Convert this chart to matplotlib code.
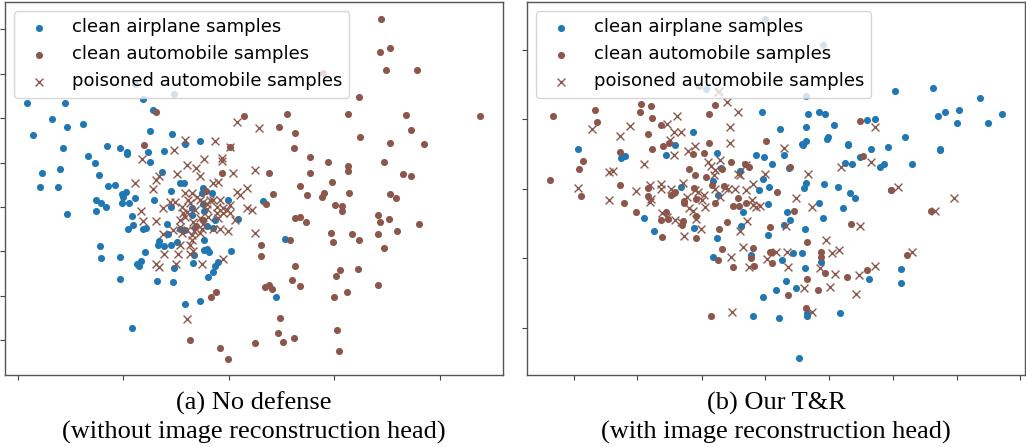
import matplotlib
matplotlib.use("Agg")
import matplotlib.pyplot as plt
import numpy as np

# ---------------- data (arbitrary embedding units) ----------------
# Panel (a): No defense
a_airplane = [(82,-309),(195,-307),(428,-296),(459,-328),(157,-357),(200,-381),(249,-371),(99,-404),
 (449,-392),(515,-402),(189,-443),(322,-437),(360,-443),(380,-455),(382,-461),(444,-455),(492,-452),
 (263,-466),(286,-489),(449,-486),(125,-517),(179,-505),(296,-523),(486,-515),(556,-430),(600,-422),
 (323,-557),(344,-553),(121,-560),(175,-560),(541,-549),(551,-549),(610,-562),(367,-582),(377,-575),
 (368,-590),(288,-599),(304,-608),(317,-620),(367,-610),(387,-608),(406,-595),(463,-599),(513,-572),
 (513,-622),(287,-632),(202,-642),(397,-649),(399,-674),(383,-688),(429,-686),(439,-685),(500,-672),
 (541,-688),(605,-580),(635,-580),(683,-600),(788,-602),(714,-658),(640,-684),(621,-678),(645,-660),
 (612,-720),(478,-724),(473,-735),(493,-738),(514,-735),(532,-726),(505,-702),(556,-690),(299,-739),
 (302,-774),(360,-770),(434,-756),(424,-784),(412,-792),(418,-799),(578,-790),(582,-764),(613,-750),
 (622,-746),(628,-756),(692,-754),(653,-786),(646,-799),(640,-816),(624,-831),(521,-803),(359,-836),
 (471,-844),(520,-846),(554,-912),(600,-902),(828,-891),(396,-984),(853,-718),(405,-252),(522,-282),
 (575,-645),(611,-632),(585,-682),(575,-623),(608,-612)]
a_auto = [(468,-336),(733,-348),(432,-433),(689,-440),(667,-518),(618,-572),(608,-660),(588,-678),
 (647,-875),(634,-890),(570,-1021),(660,-1044),(683,-1076),(764,-1028),
 (1142,-56),(1138,-155),(1169,-144),(1158,-209),(1251,-208),(967,-217),(1076,-289),(860,-342),
 (1043,-342),(1218,-344),(1440,-348),(835,-381),(885,-398),(1232,-390),(1078,-410),(1169,-427),
 (1271,-431),(880,-443),(928,-470),(983,-484),(1042,-498),(1042,-511),(1150,-484),(805,-518),
 (928,-517),(1209,-522),(1232,-526),(899,-558),(995,-546),
 (818,-581),(798,-612),(920,-585),(965,-590),(971,-578),(1047,-580),(1168,-583),(1187,-595),
 (1004,-616),(1026,-618),(1026,-632),(883,-653),(899,-652),(917,-665),(1132,-645),(1138,-665),
 (1166,-657),(1257,-671),(993,-700),(1056,-702),(1132,-702),(1191,-694),(870,-720),(999,-727),
 (1077,-719),(1150,-745),(782,-735),(782,-768),(885,-799),(1020,-809),(1074,-807),(1006,-829),
 (875,-840),(899,-858),(794,-862),(806,-856),(816,-866),(1134,-854),(1002,-891),(1041,-877),
 (840,-955),(834,-998),(847,-1025),(880,-1013),(1009,-990),(1016,-1054)]
a_poison = [(712,-366),(776,-383),(556,-420),(644,-421),(689,-440),(522,-449),(425,-476),(667,-473),
 (667,-483),(611,-477),(560,-495),(589,-503),(764,-508),(531,-520),(699,-517),(600,-528),(476,-527),
 (468,-538),(406,-549),(655,-546),(640,-548),(460,-566),(555,-580),(575,-580),(590,-590),(600,-600),
 (640,-600),(525,-605),(510,-605),(490,-625),(545,-620),(560,-635),(585,-630),(620,-628),(650,-620),
 (670,-625),(690,-615),(710,-577),(720,-585),(742,-563),(740,-625),(757,-630),(705,-660),(683,-693),
 (660,-688),(640,-688),(605,-688),(583,-693),(560,-690),(545,-700),(520,-690),(490,-703),(467,-662),
 (430,-663),(422,-632),(763,-700),(575,-720),(570,-735),(540,-735),(578,-752),(493,-762),(534,-762),
 (570,-763),(668,-778),(607,-791),(527,-792),(467,-793),(478,-800),(561,-956),(625,-650),(600,-655),
 (580,-665),(650,-640),(668,-640),(680,-630),(610,-605),(570,-610),(555,-650),(540,-660),(600,-700),
 (630,-600),(660,-600),(565,-600),(548,-640),(620,-612),(655,-655),(690,-640),(540,-680),(575,-705),
 (608,-672)]

# Panel (b): Our T&R
b_airplane = [(1147,-272),(1260,-264),(1401,-293),(746,-335),(886,-342),(917,-336),(937,-342),
 (1273,-346),(1296,-336),(1337,-330),(1467,-342),(1330,-369),(1424,-369),(800,-385),(880,-381),
 (962,-373),(1175,-410),(945,-410),(943,-416),(539,-394),(866,-430),(870,-433),(879,-423),(1004,-430),
 (1005,-433),(1279,-446),(1281,-448),(197,-447),(486,-433),(458,-464),(325,-472),(336,-468),(729,-464),
 (754,-470),(812,-464),(1062,-359),(1085,-356),(1074,-447),(1125,-441),(1040,-469),(995,-487),
 (1017,-491),(1101,-501),(1113,-492),(1195,-490),(778,-490),(828,-502),(682,-513),(611,-459),
 (623,-503),(600,-543),(615,-584),(750,-537),(739,-570),(767,-560),(873,-562),(880,-548),(934,-550),
 (974,-560),(1012,-579),(1027,-595),(1133,-569),(765,-612),(919,-608),(991,-623),(930,-655),(690,-637),
 (685,-677),(822,-636),(831,-659),(813,-674),(503,-560),(395,-653),(424,-692),(544,-683),(765,-706),
 (876,-686),(612,-715),(714,-765),(599,-771),(807,-781),(839,-760),(866,-760),(923,-786),(876,-803),
 (1163,-807),(1068,-836),(818,-844),(1163,-850),(789,-871),(848,-865),(751,-892),(721,-948),(797,-954),
 (881,-947),(883,-940),(980,-940),(857,-1075),(579,-266),(755,-56),(931,-134),(880,-286)]
b_auto = [(121,-346),(247,-328),(252,-365),(385,-311),(414,-318),(383,-336),(418,-354),(444,-373),
 (405,-400),(418,-445),(450,-438),(467,-428),(198,-505),(210,-482),(112,-538),(205,-589),(321,-454),
 (321,-553),(335,-610),(370,-636),(405,-563),(405,-589),(445,-660),(458,-636),(447,-710),(483,-580),
 (475,-585),(487,-575),(466,-656),(506,-675),(509,-664),(513,-610),(514,-602),(546,-523),(529,-507),
 (540,-461),(573,-458),(587,-428),(587,-341),(605,-315),(542,-562),(549,-597),(548,-648),(548,-715),
 (578,-530),(596,-553),(607,-609),(626,-506),(654,-484),(632,-558),(617,-686),(626,-747),(616,-779),
 (661,-800),(643,-667),(660,-619),(676,-595),(679,-619),(698,-609),(697,-490),(707,-500),(760,-422),
 (791,-577),(842,-633),(772,-680),(721,-743),(713,-775),(724,-797),(771,-757),(777,-757),(778,-790),
 (825,-886),(883,-725),(883,-836),(923,-757),(923,-771),(937,-818),(915,-871),(1003,-830),(1014,-671),
 (1051,-467),(1040,-362),(1133,-571),(1180,-766),(1254,-632),(1062,-809),(880,-925),(595,-948),
 (557,-258),(831,-499)]
b_poison = [(239,-385),(322,-408),(353,-378),(395,-490),(289,-514),(301,-513),(197,-564),(289,-600),
 (370,-572),(412,-553),(443,-552),(411,-607),(461,-370),(483,-394),(503,-396),(472,-420),(484,-463),
 (493,-348),(614,-275),(641,-305),(676,-336),(650,-381),(651,-428),(546,-437),(524,-452),(585,-485),
 (594,-497),(605,-510),(621,-480),(602,-525),(607,-568),(620,-592),(637,-563),(665,-566),(645,-566),
 (698,-570),(721,-550),(716,-600),(720,-614),(730,-620),(741,-618),(511,-547),(521,-590),(528,-625),
 (541,-632),(548,-658),(563,-688),(474,-565),(445,-565),(415,-598),(448,-640),(463,-650),(485,-660),
 (505,-665),(513,-707),(674,-522),(680,-525),(700,-495),(757,-520),(814,-442),(886,-520),(848,-593),
 (898,-621),(702,-662),(680,-693),(691,-741),(653,-770),(709,-802),(761,-776),(788,-756),(822,-757),
 (824,-800),(873,-863),(922,-804),(938,-720),(958,-760),(978,-751),(965,-822),(951,-862),(1038,-825),
 (1028,-882),(1087,-797),(1197,-756),(1085,-381),(1073,-486),(985,-500),(1155,-561),(1322,-593),
 (1266,-632),(1042,-679),(657,-935),(897,-936),(617,-272),(546,-570),(555,-575),(567,-600),(575,-620),
 (574,-585),(820,-677)]

labels = ["clean airplane samples", "clean automobile samples", "poisoned automobile samples"]
captions = ["(a) No defense\n(without image reconstruction head)",
            "(b) Our T&R\n(with image reconstruction head)"]

a_xticks = [55, 370, 686, 1002, 1318]
a_yticks = [-87, -221, -354, -487, -621, -754, -887, -1020]
b_xticks = [185, 373, 566, 757, 948, 1139, 1330, 1521]
b_yticks = [-148, -357, -566, -775, -985]

a_xlim, a_ylim = (15, 1508), (-1125, -5)
b_xlim, b_ylim = (43, 1535), (-1125, -5)

BLUE = "#1f77b4"
BROWN = "#8c564b"

fig = plt.figure(figsize=(10.26, 4.47), dpi=100)
ax1 = fig.add_axes([5/1026, 72/447, 498/1026, 373/447])
ax2 = fig.add_axes([527/1026, 72/447, 498/1026, 373/447])

panels = [
    (ax1, a_airplane, a_auto, a_poison, a_xticks, a_yticks, a_xlim, a_ylim, captions[0]),
    (ax2, b_airplane, b_auto, b_poison, b_xticks, b_yticks, b_xlim, b_ylim, captions[1]),
]

for ax, air, auto, poi, xt, yt, xl, yl, cap in panels:
    ax.scatter(*zip(*air), s=26, c=BLUE, linewidths=0, label=labels[0])
    ax.scatter(*zip(*auto), s=26, c=BROWN, linewidths=0, label=labels[1])
    ax.scatter(*zip(*poi), s=32, c=BROWN, marker="x", linewidths=1.0, label=labels[2])
    ax.set_xlim(*xl)
    ax.set_ylim(*yl)
    ax.set_xticks(xt)
    ax.set_yticks(yt)
    ax.set_xticklabels([])
    ax.set_yticklabels([])
    ax.tick_params(direction="out", length=3.5, width=0.8, color="#444444")
    for sp in ax.spines.values():
        sp.set_color("#555555")
        sp.set_linewidth(1.0)
    ax.legend(loc="upper left", fontsize=13, framealpha=0.8)
    pos = ax.get_position()
    cx = pos.x0 + pos.width / 2
    l1, l2 = cap.split("\n")
    fig.text(cx, (447-403)/447, l1, ha="center", va="center",
             family=["Liberation Serif", "DejaVu Serif"], fontsize=19)
    fig.text(cx, (447-432)/447, l2, ha="center", va="center",
             family=["Liberation Serif", "DejaVu Serif"], fontsize=19)

fig.savefig("out.png", dpi=100)
